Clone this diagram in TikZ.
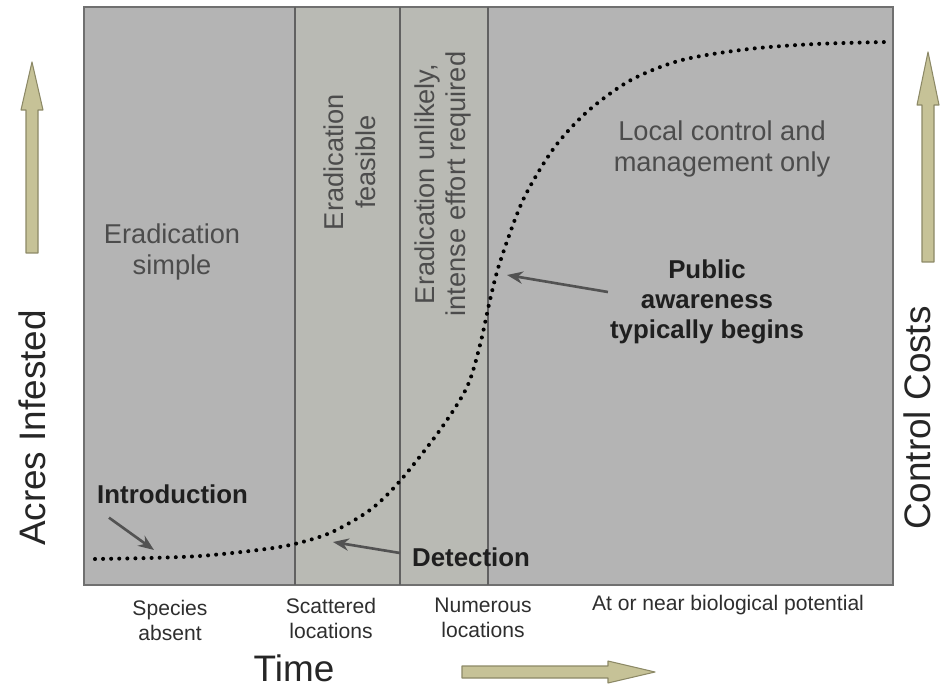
\documentclass[tikz,border=0pt]{standalone}
\usepackage{fontspec}
\setmainfont{Liberation Sans}
\usetikzlibrary{arrows.meta}

\tikzset{
  zone/.style={font=\fontsize{15.5}{18}\selectfont, text=zonetext, align=center},
  callout/.style={font=\bfseries\fontsize{14.7}{17}\selectfont, text=black!88, align=center},
  stage/.style={font=\fontsize{12}{14.2}\selectfont, text=labeltext, align=center},
  axislabel/.style={font=\fontsize{21}{24}\selectfont, text=black!85},
  pointer/.style={draw=black!68, line width=1.5pt, -{Stealth[length=9pt, width=7pt]}},
  trend/.style={line width=2.3pt, line cap=round, dash pattern=on 0pt off 4.6pt},
  fatarrow/.style={fill=khaki, draw=khakidark, line width=0.6pt, line join=round},
  divider/.style={draw=black!62, line width=1.1pt}
}

\begin{document}
\begin{tikzpicture}[x=0.02cm, y=-0.02cm]
    % --- Colores ---
    \definecolor{panel}{HTML}{B4B4B4}
    \definecolor{band}{HTML}{B9BAB4}
    \definecolor{frameline}{HTML}{707070}
    \definecolor{zonetext}{HTML}{4C4C4C}
    \definecolor{labeltext}{HTML}{2E2E2E}
    \definecolor{khaki}{HTML}{C6C297}
    \definecolor{khakidark}{HTML}{8C8966}

    % --- Marco ---
    \useasboundingbox (0,0) rectangle (945,688);
    \filldraw[fill=panel, draw=frameline, line width=1.3pt] (84,7) rectangle (893,585);
    \fill[band] (295,7) rectangle (488,585);
    \draw[frameline, line width=1.3pt] (84,7) rectangle (893,585);

    % Divisiones entre etapas
    \draw[divider] (295,7) -- (295,585);
    \draw[divider] (400,7) -- (400,585);
    \draw[divider] (488,7) -- (488,585);

    % --- Curva de invasion ---
    \draw[trend] plot[smooth] coordinates {(95,559) (150,558) (200,556) (250,551)
        (290,545) (330,533) (370,510) (400,481) (440,430) (467,387) (480,345)
        (490,300) (500,262) (523,200) (554,148) (588,111) (631,80) (682,60)
        (749,49) (816,44) (887,42)};
    \coordinate (intro-pt) at (154,550);
    \coordinate (detect-pt) at (333,542);
    \coordinate (public-pt) at (507,275);

    % --- Textos de las etapas ---
    \node[zone] (simple) at (172,252) {Eradication\\simple};
    \node[zone, rotate=90] (feasible) at (350,162) {Eradication\\feasible};
    \node[zone, rotate=90] (unlikely) at (443,184) {Eradication unlikely,\\intense effort required};
    \node[zone] (local) at (722,149) {Local control and\\management only};

    % --- Anotaciones ---
    \node[callout] (public) at (707,302) {Public\\awareness\\typically begins};
    \node[callout, anchor=west] (intro) at (91,494) {Introduction};
    \node[callout, anchor=west] (detect) at (406,557) {Detection};

    \draw[pointer] ([shift={(18,8)}]intro.south west) -- (intro-pt);
    \draw[pointer] ([shift={(-6,-4)}]detect.west) -- (detect-pt);
    \draw[pointer] ([shift={(4,-10)}]public.west) -- (public-pt);

    % --- Etiquetas inferiores ---
    \node[stage] (absent) at (170,620) {Species\\absent};
    \node[stage] (scattered) at (331,618) {Scattered\\locations};
    \node[stage] (numerous) at (483,618) {Numerous\\locations};
    \node[stage] (potential) at (728,605) {At or near biological potential};

    % --- Ejes ---
    \node[axislabel, rotate=90] (acres) at (32,428) {Acres Infested};
    \node[axislabel, rotate=90] (costs) at (917,418) {Control Costs};
    \node[axislabel] (time) at (294,668) {Time};

    % Flechas gruesas
    \filldraw[fatarrow] (26,253) -- (26,110) -- (21,110) -- (32,62) -- (43,110)
        -- (38,110) -- (38,253) -- cycle;
    \filldraw[fatarrow] (922,262) -- (922,105) -- (917,105) -- (928,52) -- (939,105)
        -- (934,105) -- (934,262) -- cycle;
    \filldraw[fatarrow] (462,666) -- (608,666) -- (608,661) -- (655,672) -- (608,683)
        -- (608,678) -- (462,678) -- cycle;
\end{tikzpicture}
\end{document}
